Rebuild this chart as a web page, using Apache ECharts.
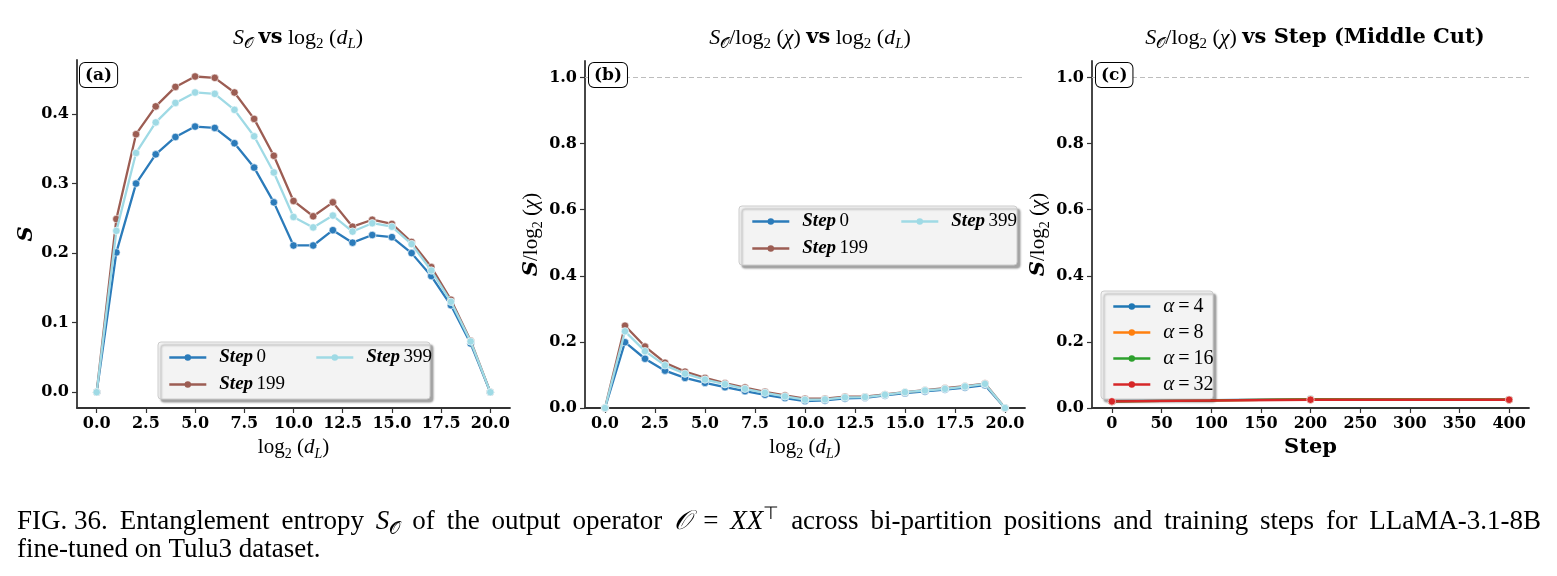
<!DOCTYPE html>
<html lang="en">
<head>
  <meta charset="UTF-8">
  <title>Entanglement entropy</title>
  <style>
    html, body { margin: 0; padding: 0; background: #fff; }
    #chart { width: 1557px; height: 576px; }
  </style>
</head>
<body>
  <div id="chart"></div>
  <script src="https://cdn.jsdelivr.net/npm/echarts@6/dist/echarts.min.js"></script>
  <script>
    // ---- data ----
    const dL = [0, 1, 2, 3, 4, 5, 6, 7, 8, 9, 10, 11, 12, 13, 14, 15, 16, 17, 18, 19, 20]
    const stepNames = ['Step 0', 'Step 199', 'Step 399']

    // (a) S vs log2(dL)
    const entropyStep0   = [0, 0.201, 0.300, 0.342, 0.367, 0.382, 0.380, 0.358, 0.323, 0.273, 0.211, 0.211, 0.233, 0.215, 0.226, 0.223, 0.200, 0.167, 0.125, 0.070, 0]
    const entropyStep199 = [0, 0.249, 0.371, 0.411, 0.439, 0.454, 0.452, 0.431, 0.393, 0.340, 0.275, 0.253, 0.273, 0.238, 0.248, 0.242, 0.216, 0.180, 0.133, 0.074, 0]
    const entropyStep399 = [0, 0.232, 0.344, 0.388, 0.416, 0.431, 0.429, 0.406, 0.368, 0.316, 0.252, 0.237, 0.254, 0.231, 0.243, 0.238, 0.213, 0.175, 0.130, 0.073, 0]

    // (b) S/log2(chi) vs log2(dL)
    const ratioStep0   = [0, 0.199, 0.149, 0.113, 0.091, 0.076, 0.063, 0.051, 0.040, 0.030, 0.021, 0.023, 0.029, 0.031, 0.038, 0.045, 0.050, 0.056, 0.062, 0.069, 0]
    const ratioStep199 = [0, 0.249, 0.186, 0.137, 0.110, 0.091, 0.075, 0.062, 0.049, 0.038, 0.028, 0.028, 0.034, 0.034, 0.041, 0.048, 0.054, 0.060, 0.066, 0.074, 0]
    const ratioStep399 = [0, 0.232, 0.172, 0.129, 0.104, 0.086, 0.072, 0.058, 0.046, 0.035, 0.025, 0.026, 0.032, 0.033, 0.040, 0.048, 0.053, 0.058, 0.065, 0.073, 0]

    // (c) middle cut vs step
    const steps = [0, 200, 400]
    const alphaNames = ['α = 4', 'α = 8', 'α = 16', 'α = 32']
    const cutAlpha4  = [0.021, 0.027, 0.026]
    const cutAlpha8  = [0.020, 0.026, 0.025]
    const cutAlpha16 = [0.020, 0.026, 0.025]
    const cutAlpha32 = [0.020, 0.025, 0.025]

    // tick labels
    const xTicksDL = [0, 2.5, 5, 7.5, 10, 12.5, 15, 17.5, 20]
    const yTicksS = [0, 0.1, 0.2, 0.3, 0.4]
    const yTicksRatio = [0, 0.2, 0.4, 0.6, 0.8, 1.0]
    const xTicksStep = [0, 50, 100, 150, 200, 250, 300, 350, 400]

    // ---- styling ----
    const stepColors = ['#2b7bba', '#9c5d53', '#9fdae5']
    const alphaColors = ['#1f77b4', '#ff7f0e', '#2ca02c', '#d62728']
    const SERIF = 'Liberation Serif'
    const DEJA = 'DejaVu Serif'
    const AX = '#333'

    function mathRich(size) {
      let lh = size + 6
      let sub = Math.round(size * 0.68)
      return {
        r: { fontFamily: SERIF, fontWeight: 'normal', fontSize: size, lineHeight: lh, color: '#000' },
        i: { fontFamily: SERIF, fontWeight: 'normal', fontStyle: 'italic', fontSize: size, lineHeight: lh, color: '#000' },
        sub: { fontFamily: SERIF, fontWeight: 'normal', fontSize: sub, lineHeight: Math.round(size * 0.62), verticalAlign: 'bottom', color: '#000' },
        subi: { fontFamily: SERIF, fontWeight: 'normal', fontStyle: 'italic', fontSize: sub, lineHeight: Math.round(size * 0.62), verticalAlign: 'bottom', color: '#000' },
        sup: { fontFamily: SERIF, fontWeight: 'normal', fontSize: Math.round(size * 0.65), lineHeight: Math.round(size * 0.6), verticalAlign: 'top', color: '#000' },
        b: { fontFamily: DEJA, fontWeight: 'bold', fontSize: size - 1, lineHeight: lh, color: '#000' },
        bi: { fontFamily: DEJA, fontWeight: 'bold', fontStyle: 'italic', fontSize: size, lineHeight: lh, color: '#000' }
      }
    }

    const grids = [
      { left: 77, top: 60, width: 433, height: 348 },
      { left: 585, top: 61, width: 440, height: 347 },
      { left: 1092, top: 61, width: 437, height: 347 }
    ]

    function xAxisCfg(idx, min, max, ticks, fmt, name, nameRich) {
      return {
        type: 'value', gridIndex: idx, min: min, max: max,
        axisLine: { show: true, onZero: false, lineStyle: { color: AX, width: 1.8 } },
        axisTick: { show: true, length: 5, customValues: ticks, lineStyle: { color: AX, width: 1.2 } },
        axisLabel: {
          customValues: ticks, formatter: fmt, margin: 8,
          fontFamily: DEJA, fontWeight: 'bold', fontSize: 16, color: '#000'
        },
        splitLine: { show: false },
        name: name, nameLocation: 'middle', nameGap: 19,
        nameTextStyle: { rich: nameRich }
      }
    }

    function yAxisCfg(idx, min, max, ticks, name, nameGap) {
      return {
        type: 'value', gridIndex: idx, min: min, max: max,
        axisLine: { show: true, onZero: false, lineStyle: { color: AX, width: 1.8 } },
        axisTick: { show: true, length: 5, customValues: ticks, lineStyle: { color: AX, width: 1.2 } },
        axisLabel: {
          customValues: ticks, formatter: v => v.toFixed(1), margin: 8,
          fontFamily: DEJA, fontWeight: 'bold', fontSize: 16, color: '#000'
        },
        splitLine: { show: false },
        name: name, nameLocation: 'middle', nameGap: nameGap, nameRotate: 90,
        nameTextStyle: { rich: mathRich(21) }
      }
    }

    function lineSeries(name, idx, xs, ys, color, z) {
      return {
        type: 'line', name: name, xAxisIndex: idx, yAxisIndex: idx,
        data: xs.map((x, i) => [x, ys[i]]),
        symbol: 'circle', symbolSize: 7.5, z: z,
        lineStyle: { width: 2.3, color: color },
        itemStyle: { color: color, borderColor: '#fff', borderWidth: 0.6 }
      }
    }

    const refLine = {
      silent: true, symbol: 'none', label: { show: false },
      lineStyle: { color: '#bdbdbd', type: [5, 3], width: 1.2 },
      data: [{ yAxis: 1.0 }]
    }

    const dLName = '{r|log}{sub|2}{r| (}{i|d}{subi|L}{r|)}'
    const ratioName = '{bi|S}{r|/log}{sub|2}{r| (}{i|χ}{r|)}'

    let series = []
    let entropy = [entropyStep0, entropyStep199, entropyStep399]
    let ratio = [ratioStep0, ratioStep199, ratioStep399]
    for (let i = 0; i < 3; i++) series.push(lineSeries(stepNames[i], 0, dL, entropy[i], stepColors[i], 2 + i))
    for (let i = 0; i < 3; i++) series.push(lineSeries(stepNames[i], 1, dL, ratio[i], stepColors[i], 2 + i))
    let cut = [cutAlpha4, cutAlpha8, cutAlpha16, cutAlpha32]
    for (let i = 0; i < 4; i++) series.push(lineSeries(alphaNames[i], 2, steps, cut[i], alphaColors[i], 2 + i))
    series[3].markLine = refLine
    series[6].markLine = JSON.parse(JSON.stringify(refLine))

    const legendRich = {
      b: { fontFamily: SERIF, fontWeight: 'bold', fontStyle: 'italic', fontSize: 19, lineHeight: 14, color: '#000' },
      n: { fontFamily: SERIF, fontSize: 19, lineHeight: 14, color: '#000' },
      a: { fontFamily: SERIF, fontStyle: 'italic', fontSize: 21, lineHeight: 14, color: '#000' },
      e: { fontFamily: SERIF, fontSize: 20, lineHeight: 14, color: '#000' }
    }
    function legendFmt(name) {
      if (name.indexOf('Step') === 0) return '{b|Step} {n|' + name.slice(5) + '}'
      return '{a|α}{e|\u2009=\u2009' + name.slice(4) + '}'
    }
    function legendCfg(data, left, top, gap) {
      return {
        data: data, left: left, top: top, orient: 'vertical', itemGap: gap,
        itemWidth: 37, itemHeight: 8, z: 6, selectedMode: false,
        formatter: legendFmt,
        itemStyle: { borderWidth: 0 },
        lineStyle: { width: 2.6 },
        textStyle: { rich: legendRich, padding: [0, 0, 0, 8] }
      }
    }

    function legendBox(x, y, w, h) {
      return {
        type: 'rect', z: 5, silent: true,
        shape: { x: x, y: y, width: w, height: h, r: 3 },
        style: {
          fill: '#f3f3f3', stroke: '#cccccc', lineWidth: 1,
          shadowColor: 'rgba(0,0,0,0.35)', shadowBlur: 2, shadowOffsetX: 3, shadowOffsetY: 3
        }
      }
    }
    function panelTag(label, x, y) {
      return {
        type: 'text', z: 10, silent: true, x: x, y: y,
        style: {
          text: label, fontFamily: DEJA, fontWeight: 'bold', fontSize: 17, fill: '#000',
          backgroundColor: '#fff', borderColor: '#000', borderWidth: 1, borderRadius: 5,
          padding: [4, 5, 3, 5]
        }
      }
    }

    // ---- caption: first line justified like the printed figure ----
    const CAP = 27
    const capRich = mathRich(CAP)
    const capLine1 = [
      [['r', 'FIG. 36.']], [['r', 'Entanglement']], [['r', 'entropy']], [['i', 'S'], ['sub', '𝒪']],
      [['r', 'of']], [['r', 'the']], [['r', 'output']], [['r', 'operator']], [['i', '𝒪']], [['r', '=']],
      [['i', 'XX'], ['sup', '⊤']], [['r', 'across']], [['r', 'bi-partition']], [['r', 'positions']],
      [['r', 'and']], [['r', 'training']], [['r', 'steps']], [['r', 'for']], [['r', 'LLaMA-3.1-8B']]
    ]
    const capLine2 = 'fine-tuned on Tulu3 dataset.'
    const measureCtx = document.createElement('canvas').getContext('2d')
    function tokenWidth(tok) {
      let st = capRich[tok[0]]
      measureCtx.font = (st.fontStyle || '') + ' ' + st.fontSize + 'px "' + SERIF + '"'
      return measureCtx.measureText(tok[1]).width
    }
    let capStart = 17, capEnd = 1541
    let wordW = capLine1.map(w => w.reduce((s, t) => s + tokenWidth(t), 0))
    let gapW = (capEnd - capStart - wordW.reduce((s, v) => s + v, 0)) / (capLine1.length - 1)
    let capGraphics = []
    let cx = capStart
    capLine1.forEach((w, k) => {
      capGraphics.push({
        type: 'text', x: cx, y: 505, silent: true,
        style: { text: w.map(t => '{' + t[0] + '|' + t[1] + '}').join(''), rich: capRich }
      })
      cx += wordW[k] + gapW
    })
    capGraphics.push({
      type: 'text', x: capStart, y: 533, silent: true,
      style: { text: '{r|' + capLine2 + '}', rich: capRich }
    })

    let chart = echarts.init(document.getElementById('chart'))
    let option = {
      backgroundColor: '#fff',
      animation: false,
      title: [
        {
          text: '{i|S}{sub|𝒪}{r| }{b|vs}{r| log}{sub|2}{r| (}{i|d}{subi|L}{r|)}',
          left: 293, top: 19, textAlign: 'center',
          textStyle: { fontWeight: 'normal', rich: mathRich(22) }
        },
        {
          text: '{i|S}{sub|𝒪}{r|/log}{sub|2}{r| (}{i|χ}{r|) }{b|vs}{r| log}{sub|2}{r| (}{i|d}{subi|L}{r|)}',
          left: 805, top: 19, textAlign: 'center',
          textStyle: { fontWeight: 'normal', rich: mathRich(22) }
        },
        {
          text: '{i|S}{sub|𝒪}{r|/log}{sub|2}{r| (}{i|χ}{r|) }{b|vs Step (Middle Cut)}',
          left: 1310, top: 19, textAlign: 'center',
          textStyle: { fontWeight: 'normal', rich: mathRich(22) }
        }
      ],
      grid: grids,
      xAxis: [
        xAxisCfg(0, -1, 21, xTicksDL, v => v.toFixed(1), dLName, mathRich(21)),
        xAxisCfg(1, -1, 21, xTicksDL, v => v.toFixed(1), dLName, mathRich(21)),
        xAxisCfg(2, -20, 420, xTicksStep, v => String(v), '{b|Step}', mathRich(22))
      ],
      yAxis: [
        yAxisCfg(0, -0.0227, 0.4777, yTicksS, '{bi|S}', 29),
        yAxisCfg(1, 0, 1.05, yTicksRatio, ratioName, 28),
        yAxisCfg(2, 0, 1.05, yTicksRatio, ratioName, 25)
      ],
      legend: [
        legendCfg(['Step 0', 'Step 199'], 163, 343, 8),
        legendCfg(['Step 399'], 310, 343, 8),
        legendCfg(['Step 0', 'Step 199'], 746, 207, 8),
        legendCfg(['Step 399'], 895, 207, 8),
        legendCfg(alphaNames, 1107, 291, 5)
      ],
      graphic: [
        legendBox(158, 342, 272, 57),
        legendBox(739, 206, 278, 59),
        legendBox(1101, 291, 112, 108),
        panelTag('(a)', 80, 63),
        panelTag('(b)', 589, 63),
        panelTag('(c)', 1096, 63)
      ].concat(capGraphics),
      series: series
    }
    chart.setOption(option)
  </script>
</body>
</html>
